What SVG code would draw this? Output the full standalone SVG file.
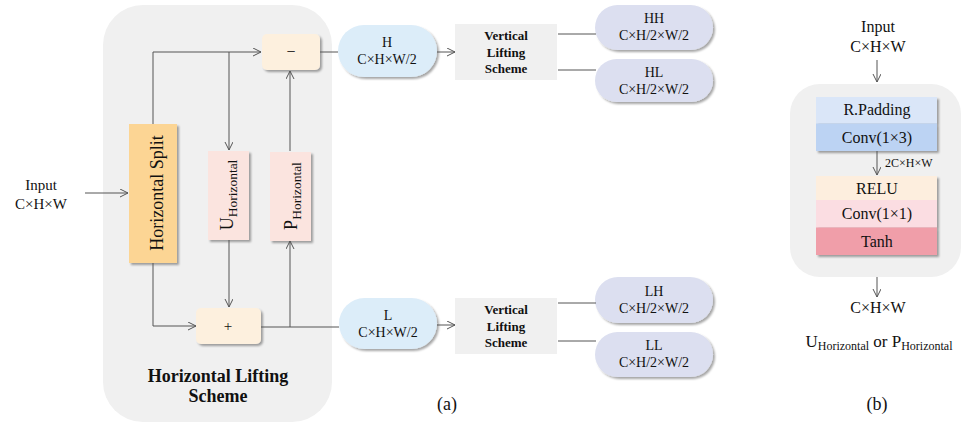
<svg xmlns="http://www.w3.org/2000/svg" width="961" height="423" viewBox="0 0 961 423" font-family="'Liberation Serif', 'DejaVu Serif', serif">
<defs>
<marker id="arr" markerUnits="userSpaceOnUse" markerWidth="10" markerHeight="10" refX="8" refY="4" orient="auto">
<path d="M0,0 L8,4 L0,8" fill="none" stroke="#555" stroke-width="1"/>
</marker>
<filter id="sh" x="-20%" y="-20%" width="140%" height="140%">
<feDropShadow dx="2" dy="2" stdDeviation="1.2" flood-color="#000" flood-opacity="0.35"/>
</filter>
<style>
text{font-family:'Liberation Serif','DejaVu Serif',serif;fill:#111;}
.c{text-anchor:middle;}
.b{font-weight:bold;}
.ln{fill:none;stroke:#555;stroke-width:1;}
.ar{marker-end:url(#arr);}
.bg{fill:#f0f0f0;}
.hp{fill:#dcedf9;filter:url(#sh);}
.op{fill:#dcdff0;filter:url(#sh);}
.pm{fill:#fdf0de;filter:url(#sh);}
.up{fill:#fbe4df;filter:url(#sh);}
</style>
</defs>

<g id="horizontal-lifting-bg">
<rect class="bg" x="103" y="5" width="229" height="417" rx="40"/>
<text class="c b" x="218" y="382" font-size="18">Horizontal Lifting</text>
<text class="c b" x="218" y="402" font-size="18">Scheme</text>
</g>

<g id="block-b-bg">
<rect class="bg" x="790" y="84" width="171" height="193" rx="30"/>
</g>

<g id="input-a">
<text class="c" x="41" y="190" font-size="15">Input</text>
<text class="c" x="41" y="209" font-size="15">C×H×W</text>
</g>

<g id="horizontal-split">
<rect x="129" y="124" width="48" height="139" fill="#fcd594" filter="url(#sh)"/>
<text class="c" transform="translate(163,193) rotate(-90)" font-size="18">Horizontal Split</text>
</g>

<g id="u-horizontal">
<rect class="up" x="208" y="151" width="41" height="89"/>
<text class="c" transform="translate(233,195) rotate(-90)" font-size="18">U<tspan font-size="13.5" dy="4">Horizontal</tspan></text>
</g>

<g id="p-horizontal">
<rect class="up" x="270" y="152" width="41" height="89"/>
<text class="c" transform="translate(297,196) rotate(-90)" font-size="18">P<tspan font-size="13.5" dy="4">Horizontal</tspan></text>
</g>

<g id="minus">
<rect class="pm" x="262" y="34" width="58" height="36" rx="5"/>
<text class="c" x="291" y="57" font-size="16">−</text>
</g>

<g id="plus">
<rect class="pm" x="196" y="308" width="65" height="36" rx="5"/>
<text class="c" x="228" y="331" font-size="15">+</text>
</g>

<g id="h-pill">
<rect class="hp" x="338" y="25" width="99" height="52" rx="26"/>
<text class="c" x="387" y="47" font-size="14">H</text>
<text class="c" x="387" y="64" font-size="14">C×H×W/2</text>
</g>

<g id="l-pill">
<rect class="hp" x="339" y="298" width="98" height="51" rx="25.5"/>
<text class="c" x="388" y="320" font-size="14">L</text>
<text class="c" x="388" y="337" font-size="14">C×H×W/2</text>
</g>

<g id="vertical-h">
<rect class="bg" x="455" y="24" width="102" height="56"/>
<text class="c b" x="506" y="40" font-size="13">Vertical</text>
<text class="c b" x="506" y="57" font-size="13">Lifting</text>
<text class="c b" x="506" y="73" font-size="13">Scheme</text>
</g>

<g id="vertical-l">
<rect class="bg" x="455" y="298" width="102" height="56"/>
<text class="c b" x="506" y="314" font-size="13">Vertical</text>
<text class="c b" x="506" y="331" font-size="13">Lifting</text>
<text class="c b" x="506" y="347" font-size="13">Scheme</text>
</g>

<g id="hh">
<rect class="op" x="595" y="5" width="118" height="45" rx="22.5"/>
<text class="c" x="654" y="23" font-size="14">HH</text>
<text class="c" x="654" y="40" font-size="14">C×H/2×W/2</text>
</g>
<g id="hl">
<rect class="op" x="595" y="59" width="118" height="43" rx="21.5"/>
<text class="c" x="654" y="77" font-size="14">HL</text>
<text class="c" x="654" y="94" font-size="14">C×H/2×W/2</text>
</g>
<g id="lh">
<rect class="op" x="595" y="277" width="118" height="46" rx="23"/>
<text class="c" x="654" y="296" font-size="14">LH</text>
<text class="c" x="654" y="313" font-size="14">C×H/2×W/2</text>
</g>
<g id="ll">
<rect class="op" x="595" y="332" width="118" height="45" rx="22.5"/>
<text class="c" x="654" y="350" font-size="14">LL</text>
<text class="c" x="654" y="367" font-size="14">C×H/2×W/2</text>
</g>

<g id="label-a">
<text class="c" x="447" y="410" font-size="18">(a)</text>
</g>

<g id="input-b">
<text class="c" x="878" y="32" font-size="16">Input</text>
<text class="c" x="878" y="52" font-size="16">C×H×W</text>
</g>

<g id="block-b">
<g filter="url(#sh)">
<rect x="816" y="97" width="121" height="26.5" fill="#dae6f8"/>
<rect x="816" y="123.5" width="121" height="27.5" fill="#bcd3f3"/>
</g>
<text class="c" x="877" y="115" font-size="16">R.Padding</text>
<text class="c" x="877" y="143" font-size="16">Conv(1×3)</text>
<text x="885" y="167" font-size="12">2C×H×W</text>
<g filter="url(#sh)">
<rect x="816" y="176" width="121" height="24" fill="#fdeede"/>
<rect x="816" y="200" width="121" height="27.5" fill="#fbdde2"/>
<rect x="816" y="227.5" width="121" height="27.5" fill="#f09ea9"/>
</g>
<text class="c" x="877" y="194" font-size="16">RELU</text>
<text class="c" x="877" y="219" font-size="16">Conv(1×1)</text>
<text class="c" x="877" y="247" font-size="16">Tanh</text>
</g>

<g id="output-b">
<text class="c" x="878" y="313" font-size="16">C×H×W</text>
<text class="c" x="879" y="347" font-size="17">U<tspan font-size="12" dy="3">Horizontal</tspan><tspan dy="-3"> or P</tspan><tspan font-size="12" dy="3">Horizontal</tspan></text>
</g>

<g id="label-b">
<text class="c" x="877" y="410" font-size="18">(b)</text>
</g>

<g id="connectors">
<path class="ln ar" d="M85,193 H128"/>
<path class="ln ar" d="M153,124 V52 H261"/>
<path class="ln ar" d="M229,52 V150"/>
<path class="ln ar" d="M290,151 V71"/>
<path class="ln ar" d="M153,263 V326 H196"/>
<path class="ln ar" d="M229,240 V307"/>
<path class="ln" d="M261,327 H339"/>
<path class="ln ar" d="M290,327 V241"/>
<path class="ln" d="M320,52 H338"/>
<path class="ln ar" d="M437,52 H455"/>
<path class="ln ar" d="M437,325 H455"/>
<path class="ln" d="M558,34 H596 M558,70 H596 M558,303 H596 M558,341 H596"/>
<path class="ln ar" d="M877,60 V82"/>
<path class="ln ar" d="M877,151 V175"/>
<path class="ln ar" d="M877,277 V297"/>
</g>
</svg>
